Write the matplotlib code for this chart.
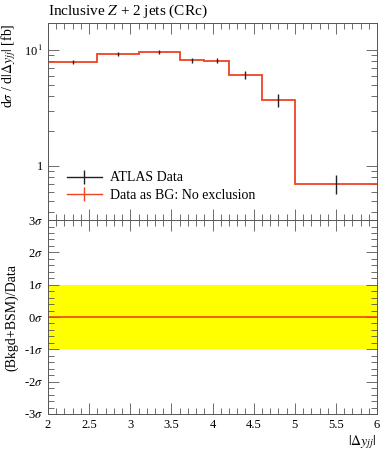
import numpy as np
import matplotlib
matplotlib.use("Agg")
import matplotlib.pyplot as plt
from matplotlib.lines import Line2D
from matplotlib.ticker import MultipleLocator, FixedLocator, FixedFormatter, NullFormatter

plt.rcParams["font.family"] = ["Liberation Serif", "DejaVu Serif"]
plt.rcParams["mathtext.fontset"] = "stix"

# ==========================================
# Data
# ==========================================
bin_edges = [2.0, 2.6, 3.1, 3.6, 3.9, 4.2, 4.6, 5.0, 6.0]
data_vals = [7.9, 9.2, 9.55, 8.15, 8.1, 6.1, 3.7, 0.70]
data_errs = [0.35, 0.4, 0.4, 0.45, 0.45, 0.45, 0.5, 0.13]
bg_vals = [7.9, 9.2, 9.55, 8.15, 8.1, 6.1, 3.7, 0.70]

ratio_band = [-1.0, 1.0]
ratio_line = 0.0
sigma_ticks = [-3, -2, -1, 0, 1, 2, 3]
sigma_labels = ["-3$\\sigma$", "-2$\\sigma$", "-1$\\sigma$", "0$\\sigma$",
                "1$\\sigma$", "2$\\sigma$", "3$\\sigma$"]
x_ticks = [2, 2.5, 3, 3.5, 4, 4.5, 5, 5.5, 6]
x_labels = ["2", "2.5", "3", "3.5", "4", "4.5", "5", "5.5", "6"]

RED = "#ee4422"

edges = np.array(bin_edges)
centers = 0.5 * (edges[1:] + edges[:-1])

fig = plt.figure(figsize=(3.89, 4.5), dpi=100)
ax1 = fig.add_axes([0.1234, 0.511, 0.846, 0.438])
ax2 = fig.add_axes([0.1234, 0.080, 0.846, 0.431])

# --- main panel ---
ax1.stairs(bg_vals, edges, baseline=None, color=RED, linewidth=1.3, zorder=2)
ax1.errorbar(centers, data_vals, yerr=data_errs, fmt="none", ecolor="#222222",
             elinewidth=1.0, capsize=0, zorder=3)
ax1.set_yscale("log")
ax1.set_xlim(2, 6)
ax1.set_ylim(0.342, 17.1)
ax1.yaxis.set_major_locator(FixedLocator([1, 10]))
ax1.yaxis.set_major_formatter(FixedFormatter(["1", "10$^{\\,1}$"]))
ax1.yaxis.set_minor_locator(FixedLocator([0.4, 0.5, 0.6, 0.7, 0.8, 0.9,
                                          2, 3, 4, 5, 6, 7, 8, 9]))
ax1.yaxis.set_minor_formatter(NullFormatter())
ax1.xaxis.set_major_locator(MultipleLocator(0.5))
ax1.xaxis.set_minor_locator(MultipleLocator(0.1))
ax1.xaxis.set_major_formatter(NullFormatter())
ax1.set_ylabel("d$\\sigma$ / d$|\\Delta y_{jj}|$ [fb]", loc="top", fontsize=10)
ax1.set_title("Inclusive $Z$ + 2 jets (CRc)", loc="left", fontsize=11, pad=6)

handles = [Line2D([], [], color="#222222", lw=1.0, marker="|", markersize=10, mew=1.0),
           Line2D([], [], color=RED, lw=1.0, marker="|", markersize=10, mew=1.0)]
ax1.legend(handles, ["ATLAS Data", "Data as BG: No exclusion"], loc="lower left",
           bbox_to_anchor=(0.02, 0.03), frameon=False, fontsize=10,
           handlelength=2.5, handletextpad=0.6, labelspacing=0.3)

# --- ratio panel ---
ax2.axhspan(ratio_band[0], ratio_band[1], color="#ffff00", lw=0, zorder=1)
ax2.axhline(ratio_line, color=RED, lw=1.2, zorder=2)
ax2.set_xlim(2, 6)
ax2.set_ylim(-3, 3)
ax2.yaxis.set_major_locator(FixedLocator(sigma_ticks))
ax2.yaxis.set_major_formatter(FixedFormatter(sigma_labels))
ax2.yaxis.set_minor_locator(MultipleLocator(0.2))
ax2.xaxis.set_major_locator(FixedLocator(x_ticks))
ax2.xaxis.set_major_formatter(FixedFormatter(x_labels))
ax2.xaxis.set_minor_locator(MultipleLocator(0.1))
ax2.set_ylabel("(Bkgd+BSM)/Data", fontsize=10)
ax2.set_xlabel("$|\\Delta y_{jj}|$", loc="right", fontsize=10, labelpad=2)

for ax in (ax1, ax2):
    ax.tick_params(which="both", direction="in", top=True, right=True,
                   color="#555555", labelsize=9)
    ax.tick_params(which="major", length=8, width=0.6)
    ax.tick_params(which="minor", length=4, width=0.6)
    for sp in ax.spines.values():
        sp.set_color("#555555")
        sp.set_linewidth(0.7)

ax1.yaxis.set_label_coords(-0.09, 1.0)
ax2.yaxis.set_label_coords(-0.09, 0.5)

fig.savefig("out.png", dpi=100)
